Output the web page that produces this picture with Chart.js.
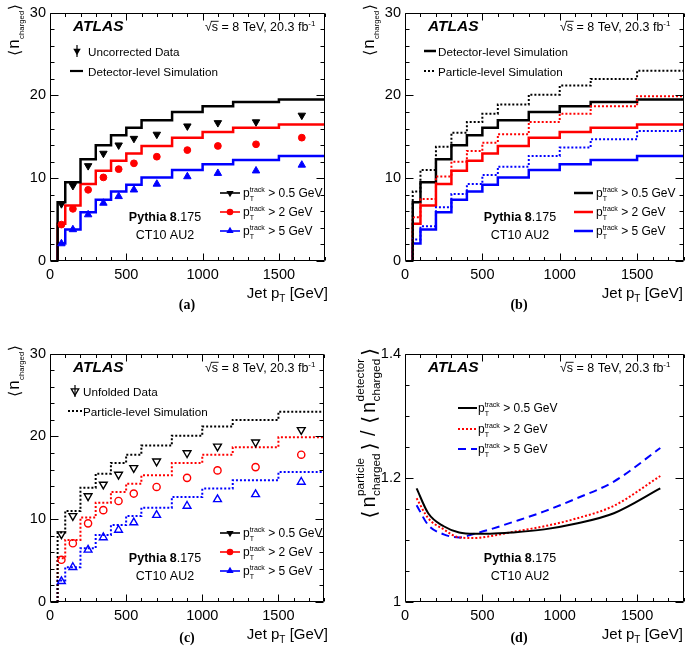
<!DOCTYPE html>
<html><head><meta charset="utf-8">
<script src="https://cdn.jsdelivr.net/npm/chart.js@4.4.1/dist/chart.umd.min.js"></script>
<style>
html,body{margin:0;padding:0;background:#fff}
body{width:685px;height:657px;overflow:hidden;position:relative}
.pan{position:absolute;width:330px;height:316px}
</style></head><body>
<div class="pan" style="left:0;top:0"><canvas id="ca"></canvas></div>
<div class="pan" style="left:355px;top:0"><canvas id="cb"></canvas></div>
<div class="pan" style="left:0;top:341px"><canvas id="cc"></canvas></div>
<div class="pan" style="left:355px;top:341px"><canvas id="cd"></canvas></div>
<script>
// ---------------- data ----------------
const binEdges   = [50,100,200,300,400,500,600,800,1000,1200,1500,1800];
const binCenters = [75,150,250,350,450,550,700,900,1100,1350,1650];
const xTicks  = [0,500,1000,1500];
const yTicksN = [0,10,20,30];
const yTicksR = [1,1.2,1.4];

const detSim05  = [7.1,9.5,12.3,14.0,15.2,16.1,17.0,18.0,18.7,19.2,19.5];
const detSim2   = [4.5,6.7,9.3,10.9,12.1,13.0,13.9,14.9,15.6,16.1,16.5];
const detSim5   = [2.1,3.8,5.9,7.4,8.4,9.2,10.1,11.0,11.7,12.2,12.7];
const partSim05 = [8.4,11.0,13.8,15.5,16.8,17.8,18.9,20.1,21.2,22.0,23.0];
const partSim2  = [5.3,7.5,10.2,12.0,13.3,14.3,15.3,16.8,17.8,18.7,19.9];
const partSim5  = [2.6,4.2,6.5,8.1,9.3,10.4,11.4,12.7,13.7,14.7,15.7];
const uncorr05  = [6.9,9.1,11.5,13.0,14.0,14.8,15.3,16.3,16.7,16.8,17.6];
const uncorr2   = [4.4,6.3,8.6,10.1,11.1,11.8,12.6,13.4,13.9,14.1,14.9];
const uncorr5   = [2.1,3.8,5.6,7.0,7.8,8.6,9.3,10.2,10.6,10.9,11.6];
const unfold05  = [8.2,10.4,12.8,14.2,15.4,16.2,17.0,18.0,18.8,19.3,20.8];
const unfold2   = [5.1,7.1,9.5,11.1,12.2,13.1,13.9,15.0,15.9,16.3,17.8];
const unfold5   = [2.5,4.2,6.3,7.8,8.7,9.6,10.5,11.6,12.4,13.0,14.5];
const ratio05   = [1.183,1.143,1.122,1.112,1.110,1.110,1.112,1.117,1.126,1.143,1.183];
const ratio2    = [1.167,1.135,1.117,1.104,1.103,1.106,1.113,1.122,1.134,1.155,1.203];
const ratio5    = [1.156,1.124,1.109,1.104,1.110,1.117,1.129,1.146,1.166,1.194,1.248];

// ---------------- styling helpers ----------------
const SANS = '"Liberation Sans", Arial, Helvetica, sans-serif';
const SERIF = '"Liberation Serif", "Times New Roman", serif';
const BRK = '"DejaVu Sans", sans-serif';
const RED = '#ff0000', BLUE = '#0000ff', BLK = '#000000';
const fnt = (s,b,i,f) => `${i?'italic ':''}${b?'bold ':''}${s}px ${f||SANS}`;

function partW(ctx,p){
  if (p.sup!==undefined || p.sub!==undefined){
    ctx.font = fnt(p.ss);
    return Math.max(ctx.measureText(p.sup||'').width, ctx.measureText(p.sub||'').width) + (p.gap||0);
  }
  ctx.font = fnt(p.s,p.b,p.i,p.f);
  return ctx.measureText(p.t).width + (p.gap||0);
}
function rich(ctx,x,y,parts,align){
  let w = 0; const ws = parts.map(p=>{const v=partW(ctx,p); w+=v; return v;});
  let cx = align==='right' ? x-w : align==='center' ? x-w/2 : x;
  ctx.textAlign='left'; ctx.textBaseline='alphabetic'; ctx.fillStyle='#000';
  parts.forEach((p,k)=>{
    if (p.sup!==undefined || p.sub!==undefined){
      ctx.font = fnt(p.ss);
      if (p.sup) ctx.fillText(p.sup, cx, y-(p.up||5));
      if (p.sub) ctx.fillText(p.sub, cx, y+(p.dn||3));
    } else {
      ctx.font = fnt(p.s,p.b,p.i,p.f);
      ctx.fillText(p.t, cx+(p.pre||0), y+(p.dy||0));
    }
    cx += ws[k];
  });
  return w;
}
const ptLabel = v => [{t:'p',s:12},{sup:'track',sub:'T',ss:7,up:5,dn:3.5},{t:' > '+v+' GeV',s:12}];
const LBa = {t:'\u27E8',s:16,f:BRK,gap:1,dy:1}, RBa = {t:'\u27E9',s:16,f:BRK,gap:0,dy:1};
const yTitleN = [LBa,{t:'n',s:17,gap:0.5},{sub:'charged',ss:7.8,dn:4.5,gap:0.5},RBa];
const LBd = {t:'\u27E8',s:20,f:BRK,gap:4,pre:1,dy:1}, RBd = {t:'\u27E9',s:20,f:BRK,gap:3,pre:2,dy:1};
const yTitleR = [LBd,{t:'n',s:20,gap:0.5},{sup:'particle',sub:'charged',ss:11.8,up:11,dn:5,gap:1},RBd,
                 {t:' / ',s:20},LBd,{t:'n',s:20,gap:0.5},{sup:'detector',sub:'charged',ss:11.8,up:11,dn:5,gap:1},RBd];

function marker(ctx,type,x,y,color,filled,r){
  ctx.save(); ctx.fillStyle=color; ctx.strokeStyle=color; ctx.lineWidth=1.3; ctx.beginPath();
  if (type==='circle'){ ctx.arc(x,y,r,0,Math.PI*2); }
  else { const d = type==='down' ? 1 : -1;
    ctx.moveTo(x, y + d*r); ctx.lineTo(x - r*0.87, y - d*r*0.5); ctx.lineTo(x + r*0.87, y - d*r*0.5); ctx.closePath(); }
  if (filled) ctx.fill(); else ctx.stroke();
  ctx.restore();
}
function hline(ctx,x1,x2,y,color,w,dash){
  ctx.save(); ctx.strokeStyle=color; ctx.lineWidth=w; ctx.setLineDash(dash||[]);
  ctx.beginPath(); ctx.moveTo(x1,y); ctx.lineTo(x2,y); ctx.stroke(); ctx.restore();
}
function header(ctx){
  rich(ctx,73,31,[{t:'ATLAS',s:15.5,b:true,i:true}],'left');
  rich(ctx,205,30.5,[{t:'\u221As',s:12.5},{t:' = 8 TeV, 20.3 fb',s:12.5},{sup:'-1',ss:8,up:5}],'left');
  ctx.save(); ctx.font=fnt(12.5); const wr = ctx.measureText('\u221A').width; const ws=ctx.measureText('s').width;
  ctx.strokeStyle='#000'; ctx.lineWidth=0.9; ctx.beginPath(); ctx.moveTo(205+wr-1, 21.3); ctx.lineTo(205+wr+ws+0.5, 21.3); ctx.stroke(); ctx.restore();
}
function generator(ctx){
  rich(ctx,165,220.5,[{t:'Pythia 8',s:12.5,b:true},{t:'.175',s:12.5}],'center');
  rich(ctx,165,238.5,[{t:'CT10 AU2',s:12.5}],'center');
}
function xTitle(ctx){ rich(ctx,328,298,[{t:'Jet p',s:15},{sub:'T',ss:10,dn:4,gap:0},{t:' [GeV]',s:15}],'right'); }
function yTitle(ctx,parts,top,bx){ ctx.save(); ctx.translate(bx,top); ctx.rotate(-Math.PI/2); rich(ctx,0,0,parts,'right'); ctx.restore(); }
function caption(ctx,t,x,y){ rich(ctx,x,y,[{t:t,s:14,b:true,f:SERIF}],'center'); }
function lowerLegend(ctx,rows,x1,x2,tx,ys,withMarkers){
  rows.forEach((r,k)=>{
    hline(ctx,x1,x2,ys[k],r.c,withMarkers?1.6:2.5,r.dash);
    if (withMarkers) marker(ctx,r.m,(x1+x2)/2,ys[k],r.c,true,r.m==='circle'?3.3:4.2);
    rich(ctx,tx,ys[k]+4,ptLabel(r.v),'left');
  });
}

// ---------------- frame / ticks plugin ----------------
function makeDeco(kind, drawText){
  return { id:'deco'+kind, afterDraw(chart){
    const {ctx, chartArea:a, scales:{x,y}} = chart;
    ctx.save(); ctx.strokeStyle='#000'; ctx.lineWidth=1;
    const L = Math.round(a.left)+0.5, R = Math.round(a.right)-0.5, T = Math.round(a.top)+0.5, B = Math.round(a.bottom)-0.5;
    ctx.beginPath(); ctx.rect(L,T,R-L,B-T); ctx.stroke();
    ctx.beginPath();
    for (let i=0;i<=18;i++){ const px = Math.round(x.getPixelForValue(i*100))+0.5; const len = (i%5===0)?7:3.5;
      ctx.moveTo(px,B); ctx.lineTo(px,B-len); ctx.moveTo(px,T); ctx.lineTo(px,T+len); }
    if (kind==='n'){ for (let i=0;i<=15;i++){ const py = Math.round(y.getPixelForValue(i*2))+0.5; const len=(i%5===0)?8:4;
      ctx.moveTo(L,py); ctx.lineTo(L+len,py); ctx.moveTo(R,py); ctx.lineTo(R-len,py); } }
    else { for (let i=0;i<=8;i++){ const py = Math.round(y.getPixelForValue(1+i*0.05))+0.5; const len=(i%4===0)?8:4;
      ctx.moveTo(L,py); ctx.lineTo(L+len,py); ctx.moveTo(R,py); ctx.lineTo(R-len,py); } }
    ctx.stroke(); ctx.restore();
    ctx.save(); drawText(ctx); ctx.restore();
  }};
}

// ---------------- dataset builders ----------------
const stepPts = vals => [{x:binEdges[0],y:0}].concat(vals.map((v,i)=>({x:binEdges[i],y:v})), [{x:binEdges[binEdges.length-1],y:vals[vals.length-1]}]);
const stepDS = (vals,color,w,dash) => ({data:stepPts(vals),borderColor:color,borderWidth:w,borderDash:dash||[],stepped:true,pointRadius:0,fill:false,tension:0});
const markDS = (vals,color,style,rot,filled,r) => ({data:binCenters.map((x,i)=>({x,y:vals[i]})),showLine:false,pointStyle:style,rotation:rot,pointRadius:r,
  pointBackgroundColor:filled?color:'rgba(0,0,0,0)',pointBorderColor:color,pointBorderWidth:filled?1:1.4});
const curveDS = (vals,color,dash) => ({data:binCenters.map((x,i)=>({x,y:vals[i]})),borderColor:color,borderWidth:2,borderDash:dash||[],pointRadius:0,cubicInterpolationMode:'monotone',fill:false});

function makeChart(id,kind,datasets,drawText){
  const isN = kind==='n';
  return new Chart(document.getElementById(id),{
    type:'line',
    data:{datasets},
    plugins:[makeDeco(kind,drawText)],
    options:{
      responsive:true, maintainAspectRatio:false, animation:false, events:[],
      layout:{padding:{left:0,right:1.5,top:9.3,bottom:25}},
      plugins:{legend:{display:false},tooltip:{enabled:false}},
      scales:{
        x:{type:'linear',min:0,max:1800,
           afterBuildTicks:s=>{s.ticks=xTicks.map(v=>({value:v}));},
           afterFit:s=>{s.height=30;},
           grid:{display:false,drawTicks:false},border:{display:false},
           ticks:{color:'#000',font:{family:SANS,size:14.5},padding:5,maxRotation:0,autoSkip:false,callback:v=>String(v)}},
        y:{type:'linear',min:isN?0:1,max:isN?30:1.4,
           afterBuildTicks:s=>{s.ticks=(isN?yTicksN:yTicksR).map(v=>({value:v}));},
           afterFit:s=>{s.width=50;},
           grid:{display:false,drawTicks:false},border:{display:false},
           ticks:{color:'#000',font:{family:SANS,size:14.5},padding:4,callback:v=>String(v)}}
      }
    }
  });
}

// (a)
makeChart('ca','n',[
  markDS(uncorr05,BLK,'triangle',180,true,4.3),
  markDS(uncorr2,RED,'circle',0,true,3.4),
  markDS(uncorr5,BLUE,'triangle',0,true,4.3),
  stepDS(detSim05,BLK,2.5), stepDS(detSim2,RED,2.5), stepDS(detSim5,BLUE,2.5)
], ctx=>{
  header(ctx); generator(ctx); xTitle(ctx); yTitle(ctx,yTitleN,4,19); caption(ctx,'(a)',187,309);
  ctx.save(); ctx.strokeStyle='#000'; ctx.lineWidth=1.2; ctx.beginPath(); ctx.moveTo(77,45); ctx.lineTo(77,57); ctx.stroke(); ctx.restore();
  marker(ctx,'down',77,51,BLK,true,4.3);
  rich(ctx,88,55.5,[{t:'Uncorrected Data',s:11.7}],'left');
  hline(ctx,70,83,71,BLK,2.2);
  rich(ctx,88,75.5,[{t:'Detector-level Simulation',s:11.7}],'left');
  lowerLegend(ctx,[{c:BLK,m:'down',v:'0.5'},{c:RED,m:'circle',v:'2'},{c:BLUE,m:'up',v:'5'}],220,240,243,[193,212,231],true);
});
// (b)
makeChart('cb','n',[
  stepDS(partSim05,BLK,2,[2,2]), stepDS(partSim2,RED,2,[2,2]), stepDS(partSim5,BLUE,2,[2,2]),
  stepDS(detSim05,BLK,2.5), stepDS(detSim2,RED,2.5), stepDS(detSim5,BLUE,2.5)
], ctx=>{
  header(ctx); generator(ctx); xTitle(ctx); yTitle(ctx,yTitleN,4,19); caption(ctx,'(b)',164,309);
  hline(ctx,69,81,51,BLK,2.5);
  rich(ctx,83,55.5,[{t:'Detector-level Simulation',s:11.7}],'left');
  hline(ctx,69,81,71,BLK,1.8,[2,2]);
  rich(ctx,83,75.5,[{t:'Particle-level Simulation',s:11.7}],'left');
  lowerLegend(ctx,[{c:BLK,v:'0.5'},{c:RED,v:'2'},{c:BLUE,v:'5'}],219,238,241,[193,212,231],false);
});
// (c)
makeChart('cc','n',[
  markDS(unfold05,BLK,'triangle',180,false,4.5),
  markDS(unfold2,RED,'circle',0,false,3.6),
  markDS(unfold5,BLUE,'triangle',0,false,4.5),
  stepDS(partSim05,BLK,2,[2,2]), stepDS(partSim2,RED,2,[2,2]), stepDS(partSim5,BLUE,2,[2,2])
], ctx=>{
  header(ctx); generator(ctx); xTitle(ctx); yTitle(ctx,yTitleN,4,19); caption(ctx,'(c)',187,301);
  ctx.save(); ctx.strokeStyle='#000'; ctx.lineWidth=1.2; ctx.beginPath(); ctx.moveTo(75,44); ctx.lineTo(75,56); ctx.stroke(); ctx.restore();
  marker(ctx,'down',75,50,BLK,false,4.3);
  rich(ctx,83,54.5,[{t:'Unfolded Data',s:11.7}],'left');
  hline(ctx,68,82,70,BLK,1.8,[2,2]);
  rich(ctx,83,74.5,[{t:'Particle-level Simulation',s:11.7}],'left');
  lowerLegend(ctx,[{c:BLK,m:'down',v:'0.5'},{c:RED,m:'circle',v:'2'},{c:BLUE,m:'up',v:'5'}],220,240,243,[192,211,230],true);
});
// (d)
makeChart('cd','r',[
  curveDS(ratio05,BLK), curveDS(ratio2,RED,[2,2]), curveDS(ratio5,BLUE,[8,5])
], ctx=>{
  header(ctx); generator(ctx); xTitle(ctx); yTitle(ctx,yTitleR,6,20); caption(ctx,'(d)',164,301);
  hline(ctx,103,122,67,BLK,2);
  rich(ctx,123,71,ptLabel('0.5'),'left');
  hline(ctx,103,122,88,RED,2,[2,2]);
  rich(ctx,123,92,ptLabel('2'),'left');
  hline(ctx,103,122,108,BLUE,2,[8,5]);
  rich(ctx,123,112,ptLabel('5'),'left');
});
</script>
</body></html>
